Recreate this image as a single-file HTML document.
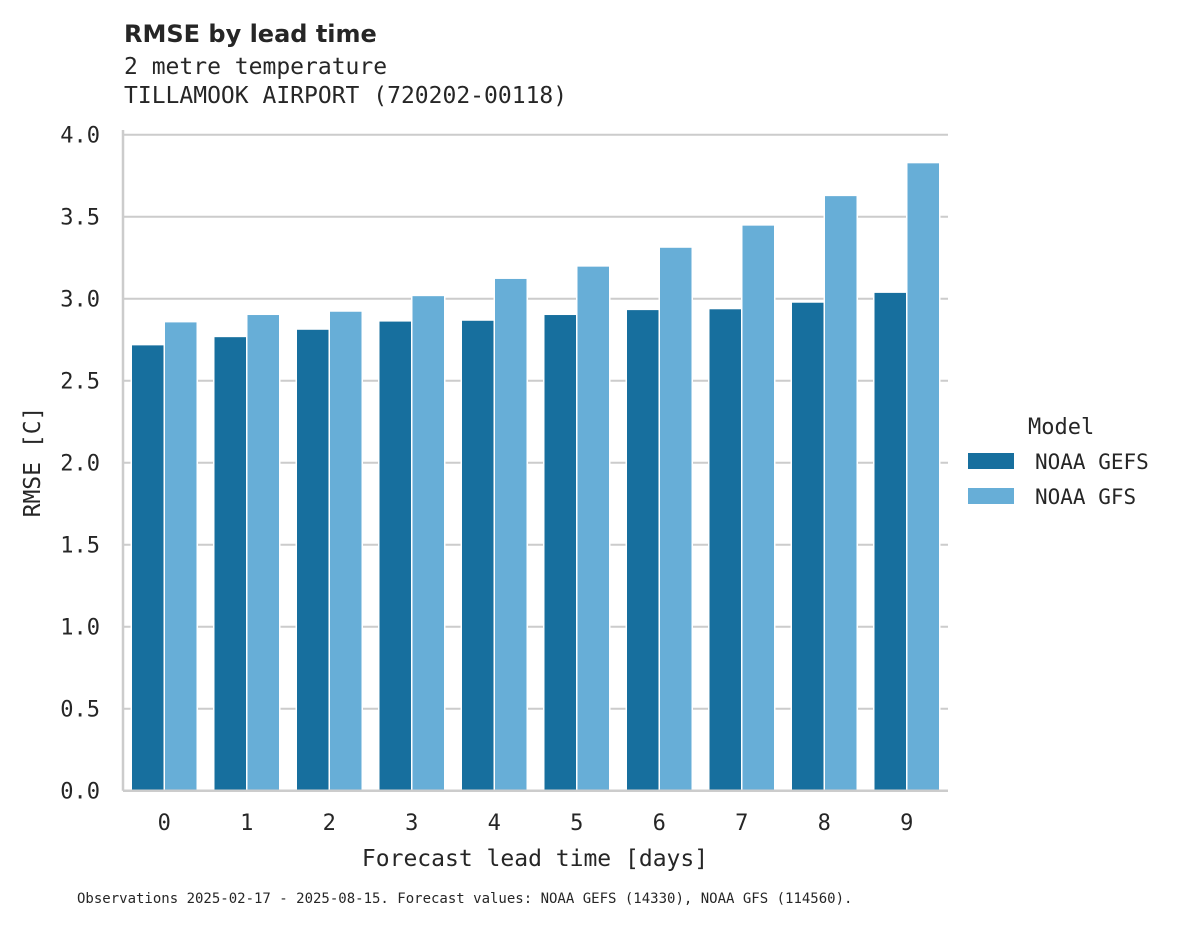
<!DOCTYPE html>
<html><head><meta charset="utf-8"><style>
body{margin:0;background:#fff;}
svg text{fill:#262626;}
.mono{font-family:"DejaVu Sans Mono","Liberation Mono",monospace;}
</style></head><body>
<svg id="chart" width="1188" height="925" xmlns="http://www.w3.org/2000/svg">
<text x="124" y="42" font-family="DejaVu Sans,Liberation Sans,sans-serif" font-weight="bold" font-size="24">RMSE by lead time</text>
<text class="mono" x="124" y="74" font-size="23">2 metre temperature</text>
<text class="mono" x="124" y="103" font-size="23">TILLAMOOK AIRPORT (720202-00118)</text>
<g id="grid"></g><g id="bars"></g><g id="axes"></g>
<text class="mono" x="535" y="866" font-size="23" text-anchor="middle">Forecast lead time [days]</text>
<text class="mono" transform="translate(40,462) rotate(-90)" font-size="23" text-anchor="middle">RMSE [C]</text>
<text class="mono" x="77" y="903" font-size="14">Observations 2025-02-17 - 2025-08-15. Forecast values: NOAA GEFS (14330), NOAA GFS (114560).</text>
<g>
<text class="mono" x="1028" y="434" font-size="22">Model</text>
<rect x="968" y="453" width="46" height="16" fill="#176f9e"/>
<text class="mono" x="1035" y="469" font-size="21">NOAA GEFS</text>
<rect x="968" y="488" width="46" height="16" fill="#67aed7"/>
<text class="mono" x="1035" y="504" font-size="21">NOAA GFS</text>
</g>
</svg>
<script>
const categories=["0","1","2","3","4","5","6","7","8","9"];
const gefs=[2.72,2.77,2.815,2.865,2.87,2.905,2.935,2.94,2.98,3.04];
const gfs=[2.86,2.905,2.925,3.02,3.125,3.2,3.315,3.45,3.63,3.83];
const yTicks=[0,0.5,1,1.5,2,2.5,3,3.5,4];
const yTickLabels=["0.0","0.5","1.0","1.5","2.0","2.5","3.0","3.5","4.0"];
const NS="http://www.w3.org/2000/svg";
const x0=123,x1=948,yBase=790.7,pxPer=164;
const bw=(x1-x0)/categories.length;
function y(v){return yBase-v*pxPer;}
function xc(i){return x0+bw*(i+0.5);}
function mk(t,a,p){const e=document.createElementNS(NS,t);for(const k in a)e.setAttribute(k,a[k]);p.appendChild(e);return e;}
const grid=document.getElementById('grid'),bars=document.getElementById('bars'),axes=document.getElementById('axes');
yTicks.forEach((v,i)=>{
 if(v>0){const l=mk('line',{x1:x0,x2:x1,y1:y(v),y2:y(v),stroke:'#cccccc','stroke-width':2},grid);
 
 }
 const t=mk('text',{x:100,y:y(v)+8,'font-size':22,'text-anchor':'end',class:'mono'},axes);t.textContent=yTickLabels[i];
 
 
});
const half=bw*0.4;
categories.forEach((c,i)=>{
 const cx=xc(i);
 const a=mk('rect',{x:cx-half,y:y(gefs[i]),width:half,height:gefs[i]*pxPer,fill:'#176f9e',stroke:'#fff','stroke-width':1.5},bars);
 
 
 const b=mk('rect',{x:cx,y:y(gfs[i]),width:half,height:gfs[i]*pxPer,fill:'#67aed7',stroke:'#fff','stroke-width':1.5},bars);
 
 
 const t=mk('text',{x:cx,y:830,'font-size':22,'text-anchor':'middle',class:'mono'},axes);t.textContent=c;
 
 
});
const la=mk('line',{x1:x0,x2:x0,y1:130,y2:yBase,stroke:'#cccccc','stroke-width':2.5},axes);


const lb=mk('line',{x1:x0,x2:x1,y1:yBase,y2:yBase,stroke:'#cccccc','stroke-width':2.5},axes);


</script>
</body></html>
